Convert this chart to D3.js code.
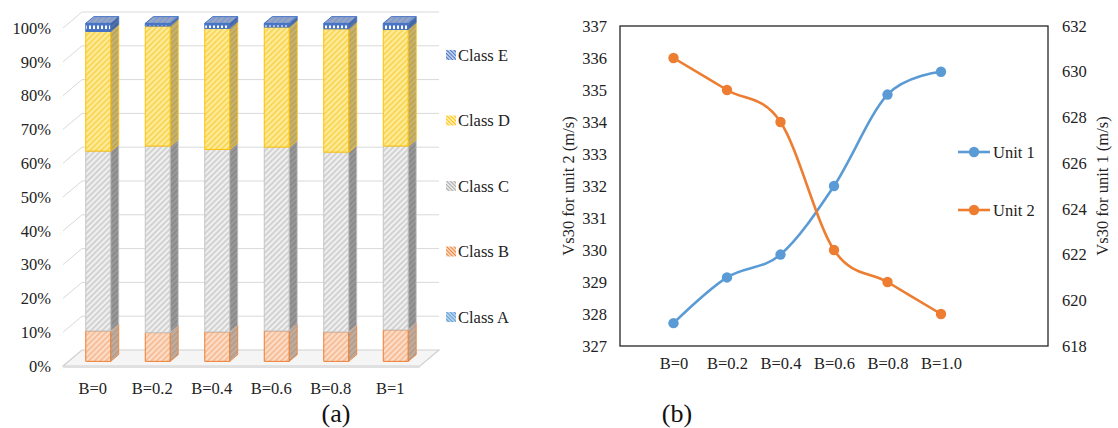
<!DOCTYPE html>
<html>
<head>
<meta charset="utf-8">
<script src="https://cdn.jsdelivr.net/npm/d3@7"></script>
<style>
  html, body { margin: 0; padding: 0; background: #fff; }
  svg { display: block; font-family: "Liberation Serif", "Times New Roman", serif; }
</style>
</head>
<body>
<svg id="chart" width="1118" height="428"></svg>
<script>
// ---- Panel (a): share of site classes per B value (percent) ----
const categoriesA = ["B=0", "B=0.2", "B=0.4", "B=0.6", "B=0.8", "B=1"];
const classKeys = ["Class A", "Class B", "Class C", "Class D", "Class E"];
const classA = [0, 0, 0, 0, 0, 0];
const classB = [9.0, 8.5, 8.7, 9.0, 8.7, 9.3];
const classC = [53.2, 55.2, 54.0, 54.4, 53.2, 54.4];
const classD = [35.4, 35.5, 35.8, 35.5, 36.5, 34.5];
const classE = [2.4, 0.8, 1.5, 1.1, 1.6, 1.8];
const percentTicks = [0, 10, 20, 30, 40, 50, 60, 70, 80, 90, 100];

// ---- Panel (b): mean Vs30 per unit (m/s) ----
const categoriesB = ["B=0", "B=0.2", "B=0.4", "B=0.6", "B=0.8", "B=1.0"];
const unit1 = [619, 621, 622, 625, 629, 630];   // right axis
const unit2 = [336, 335, 334, 330, 329, 328];   // left axis
const leftTicks = [327, 328, 329, 330, 331, 332, 333, 334, 335, 336, 337];
const rightTicks = [618, 620, 622, 624, 626, 628, 630, 632];

const svg = d3.select("#chart");
const defs = svg.append("defs");
const FONT = 16.5;

// diagonal hatch pattern
function hatch(id, bg, fg, angle, size, lw) {
  const p = defs.append("pattern")
    .attr("id", id).attr("patternUnits", "userSpaceOnUse")
    .attr("width", size).attr("height", size)
    .attr("patternTransform", `rotate(${angle})`);
  p.append("rect").attr("width", size).attr("height", size).attr("fill", bg);
  p.append("line").attr("x1", size / 2).attr("x2", size / 2)
    .attr("y1", 0).attr("y2", size).attr("stroke", fg).attr("stroke-width", lw);
  return `url(#${id})`;
}
// blue face with small white dashes
(function () {
  const p = defs.append("pattern").attr("id", "dashBlue")
    .attr("patternUnits", "userSpaceOnUse").attr("width", 4).attr("height", 6);
  p.append("rect").attr("width", 4).attr("height", 6).attr("fill", "#4A74C6");
  p.append("rect").attr("x", 1).attr("y", 1.5).attr("width", 2).attr("height", 3.5).attr("fill", "#ffffff");
})();

const styles = {
  "Class A": { front: hatch("fA", "#DEEBF7", "#9DC3E6", 45, 4, 1.4), side: hatch("sA", "#9FB4C8", "#7F97AE", 45, 4, 1.4), stroke: "#9DC3E6",
               legend: hatch("lA", "#BDD7EE", "#5B9BD5", -45, 2.6, 1) },
  "Class B": { front: hatch("fB", "#FCDDC7", "#F4AE80", 45, 4, 1.3), side: hatch("sB", "#B39E90", "#C9B3A2", 45, 4, 1.4), stroke: "#ED7D31",
               legend: hatch("lB", "#FBE0CE", "#ED7D31", -45, 2.6, 1) },
  "Class C": { front: hatch("fC", "#F0F0F0", "#C2C2C2", 45, 4, 1.3), side: hatch("sC", "#8A8A8A", "#A0A0A0", 45, 4, 1.4), stroke: "#C4C4C4",
               legend: hatch("lC", "#EDEDED", "#A5A5A5", -45, 2.6, 1) },
  "Class D": { front: hatch("fD", "#FFEB9C", "#F5CF3C", 45, 4, 1.4), side: hatch("sD", "#BBA55C", "#CDB978", 45, 4, 1.4), stroke: "#FFC000",
               legend: hatch("lD", "#FFF2C2", "#FFC000", -45, 2.6, 1) },
  "Class E": { front: "url(#dashBlue)", side: hatch("sE", "#41639F", "#5877B0", 45, 4, 1.4), stroke: "#4472C4",
               top: hatch("tE", "#7F9CD4", "#A4A9B6", 45, 4, 1.6),
               legend: hatch("lE", "#C9D5EE", "#4472C4", -45, 2.6, 1) }
};

// ================= Panel (a) : 3-D stacked 100% columns =================
{
  const g = svg.append("g");
  const depth = [19, -16];                       // oblique offset front -> back
  const x = d3.scaleBand().domain(categoriesA).range([63, 420]);
  const y = d3.scaleLinear().domain([0, 100]).range([366, 28]);
  const P = (px, py, d) => [px + d * depth[0], py + d * depth[1]];
  const poly = pts => "M" + pts.map(p => p.join(",")).join("L") + "Z";

  // back wall gridlines
  g.selectAll("line.back").data(percentTicks.slice(1)).join("line")
    .attr("x1", x.range()[0] + depth[0]).attr("x2", x.range()[1] + depth[0])
    .attr("y1", d => y(d) + depth[1]).attr("y2", d => y(d) + depth[1])
    .attr("stroke", "#D9D9D9").attr("stroke-width", 1);
  // left wall gridlines
  g.selectAll("line.side").data(percentTicks.slice(1)).join("line")
    .attr("x1", x.range()[0]).attr("x2", x.range()[0] + depth[0])
    .attr("y1", d => y(d)).attr("y2", d => y(d) + depth[1])
    .attr("stroke", "#D9D9D9").attr("stroke-width", 1);
  // floor
  const x0 = x.range()[0], x1 = x.range()[1], yb = y(0);
  g.append("path")
    .attr("d", poly([[x0, yb], [x1, yb], P(x1, yb, 1), P(x0, yb, 1)]))
    .attr("fill", "#F5F5F5").attr("stroke", "#D0D0D0").attr("stroke-width", 1.2);
  g.append("line").attr("x1", x0).attr("x2", x1).attr("y1", yb + 1).attr("y2", yb + 1)
    .attr("stroke", "#E0E0E0").attr("stroke-width", 2);

  // stacked series
  const rows = categoriesA.map((c, i) => ({
    cat: c, "Class A": classA[i], "Class B": classB[i], "Class C": classC[i],
    "Class D": classD[i], "Class E": classE[i]
  }));
  const series = d3.stack().keys(classKeys)(rows);

  const d0 = 0.29, d1 = 0.71;
  const barW = x.bandwidth() * 0.42;
  categoriesA.forEach((cat, i) => {
    const bx = x(cat) + x.bandwidth() / 2 - barW / 2;
    const segs = series.map(s => ({ key: s.key, lo: s[i][0], hi: s[i][1] }))
      .filter(s => s.hi - s.lo > 0);
    segs.forEach((s, k) => {
      const st = styles[s.key];
      const yl = y(s.lo), yh = y(s.hi);
      const fl = P(bx, yl, d0), fr = P(bx + barW, yl, d0);
      const tl = P(bx, yh, d0), tr = P(bx + barW, yh, d0);
      const brl = P(bx + barW, yl, d1), brh = P(bx + barW, yh, d1);
      // front face
      g.append("path").attr("d", poly([fl, fr, tr, tl]))
        .attr("fill", st.front).attr("stroke", st.stroke).attr("stroke-width", 1);
      // right side face
      g.append("path").attr("d", poly([fr, brl, brh, tr]))
        .attr("fill", st.side).attr("stroke", st.stroke).attr("stroke-width", 0.8);
      // top face on the last segment
      if (k === segs.length - 1) {
        const bl = P(bx, yh, d1);
        g.append("path").attr("d", poly([tl, tr, brh, bl]))
          .attr("fill", st.top || st.front).attr("stroke", st.stroke).attr("stroke-width", 1);
      }
    });
  });

  // y tick labels
  g.selectAll("text.yt").data(percentTicks).join("text")
    .attr("x", 51).attr("y", d => y(d)).attr("dy", "0.35em")
    .attr("text-anchor", "end").attr("font-size", FONT).attr("fill", "#222")
    .text(d => d + "%");
  // category labels
  g.selectAll("text.xt").data(categoriesA).join("text")
    .attr("x", d => x(d) + x.bandwidth() / 2).attr("y", 388).attr("dy", "0.35em")
    .attr("text-anchor", "middle").attr("font-size", FONT).attr("fill", "#222")
    .text(d => d);

  // legend, top entry first
  const legY = d3.scalePoint().domain(classKeys.slice().reverse()).range([55, 317]);
  const leg = g.selectAll("g.leg").data(classKeys).join("g")
    .attr("transform", d => `translate(446,${legY(d)})`);
  leg.append("rect").attr("x", 0).attr("y", -5).attr("width", 10).attr("height", 10)
    .attr("fill", d => styles[d].legend);
  leg.append("text").attr("x", 12).attr("y", 0).attr("dy", "0.35em")
    .attr("font-size", FONT).attr("fill", "#222").text(d => d);

  svg.append("text").attr("x", 336).attr("y", 413).attr("dy", "0.35em")
    .attr("text-anchor", "middle").attr("font-size", 26).attr("fill", "#111").text("(a)");
}

// ================= Panel (b) : smoothed lines on two axes =================
{
  const g = svg.append("g");
  const L = 620, R = 1048, T = 26, B = 346;
  const x = d3.scaleLinear().domain([-1, 7]).range([L, R]);
  const yL = d3.scaleLinear().domain([327, 337]).range([B, T]);
  const yR = d3.scaleLinear().domain([618, 632]).range([B, T]);

  g.append("rect").attr("x", L).attr("y", T).attr("width", R - L).attr("height", B - T)
    .attr("fill", "none").attr("stroke", "#262626").attr("stroke-width", 1.3);

  const axL = g.append("g").attr("transform", `translate(${L},0)`)
    .call(d3.axisLeft(yL).tickValues(leftTicks).tickSize(0).tickPadding(13));
  const axR = g.append("g").attr("transform", `translate(${R},0)`)
    .call(d3.axisRight(yR).tickValues(rightTicks).tickSize(0).tickPadding(14));
  const axB = g.append("g").attr("transform", `translate(0,${B})`)
    .call(d3.axisBottom(x).tickValues(d3.range(categoriesB.length))
      .tickFormat(i => categoriesB[i]).tickSize(0).tickPadding(11));
  [axL, axR, axB].forEach(a => {
    a.select(".domain").remove();
    a.selectAll("text").attr("font-size", FONT).attr("fill", "#222")
      .attr("font-family", "Liberation Serif, Times New Roman, serif");
  });

  g.append("text").attr("transform", `translate(568,${(T + B) / 2}) rotate(-90)`)
    .attr("text-anchor", "middle").attr("dy", "0.35em").attr("font-size", FONT).attr("fill", "#222")
    .text("Vs30 for unit 2 (m/s)");
  g.append("text").attr("transform", `translate(1102,${(T + B) / 2}) rotate(-90)`)
    .attr("text-anchor", "middle").attr("dy", "0.35em").attr("font-size", FONT).attr("fill", "#222")
    .text("Vs30 for unit 1 (m/s)");

  const lines = [
    { name: "Unit 1", values: unit1, scale: yR, color: "#5B9BD5", ly: 152 },
    { name: "Unit 2", values: unit2, scale: yL, color: "#ED7D31", ly: 210 }
  ];
  lines.forEach(s => {
    const line = d3.line().x((d, i) => x(i)).y(d => s.scale(d)).curve(d3.curveCatmullRom.alpha(0));
    g.append("path").datum(s.values).attr("d", line)
      .attr("fill", "none").attr("stroke", s.color).attr("stroke-width", 2.6);
    g.selectAll(null).data(s.values).join("circle")
      .attr("cx", (d, i) => x(i)).attr("cy", d => s.scale(d)).attr("r", 5.2)
      .attr("fill", s.color);
    // legend entry
    g.append("line").attr("x1", 958).attr("x2", 990).attr("y1", s.ly).attr("y2", s.ly)
      .attr("stroke", s.color).attr("stroke-width", 2.6);
    g.append("circle").attr("cx", 974).attr("cy", s.ly).attr("r", 5.2).attr("fill", s.color);
    g.append("text").attr("x", 993).attr("y", s.ly).attr("dy", "0.35em")
      .attr("font-size", FONT).attr("fill", "#222").text(s.name);
  });

  svg.append("text").attr("x", 677).attr("y", 413).attr("dy", "0.35em")
    .attr("text-anchor", "middle").attr("font-size", 26).attr("fill", "#111").text("(b)");
}
</script>
</body>
</html>
